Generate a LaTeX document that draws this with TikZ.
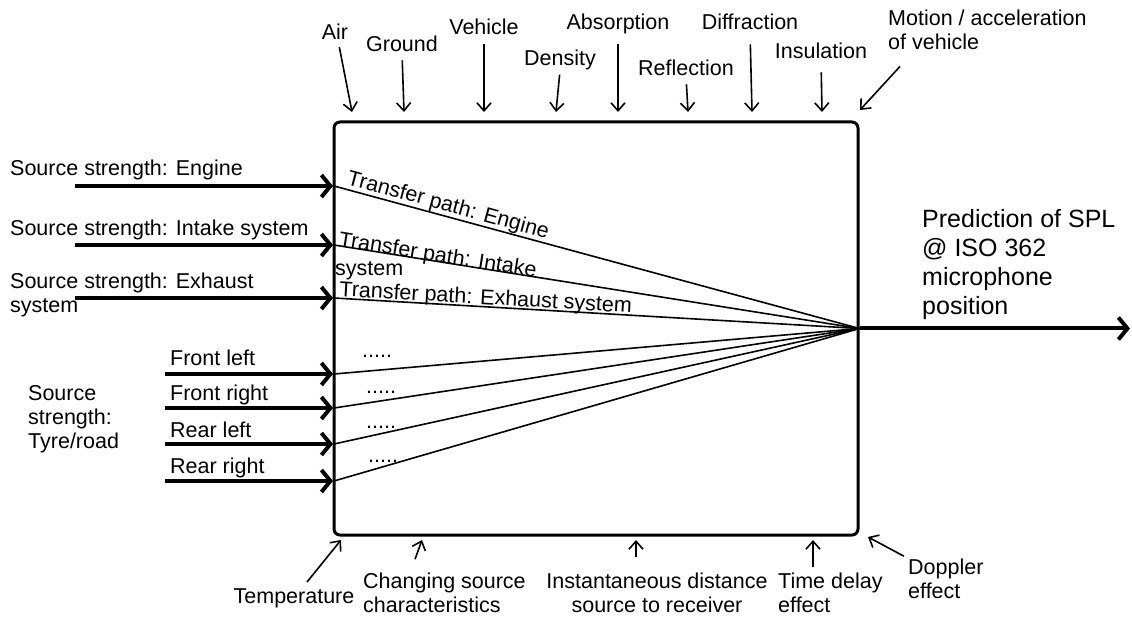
\documentclass[tikz,border=0pt]{standalone}
\usepackage{fontspec}
\setmainfont{Liberation Sans}
\usetikzlibrary{arrows.meta}
\begin{document}
\begin{tikzpicture}[x=1pt,y=-1pt,
  lbl/.style={font=\fontsize{21.5}{24}\selectfont, inner sep=0pt, align=left},
  big/.style={font=\fontsize{25}{29}\selectfont, inner sep=0pt, align=left},
  tarr/.style={line width=1.6pt, -{Straight Barb[length=8pt,width=14pt]}},
  karr/.style={line width=4pt, -{Straight Barb[length=9pt,width=22pt]}},
  tline/.style={line width=1.6pt}]
\useasboundingbox (0,0) rectangle (1132,617);

% main box
\node[draw, line width=3pt, rounded corners=6pt, minimum width=524pt, minimum height=413pt, inner sep=0pt] (box) at (596,328.5) {};

% top influences
\node[lbl, anchor=base] (air) at (335,40) {Air};
\node[lbl, anchor=base] (ground) at (402,52) {Ground};
\node[lbl, anchor=base] (veh) at (484,35) {Vehicle};
\node[lbl, anchor=base] (dens) at (560,66) {Density};
\node[lbl, anchor=base] (absn) at (618,30) {Absorption};
\node[lbl, anchor=base] (refl) at (686,76) {Reflection};
\node[lbl, anchor=base] (diff) at (750,30) {Diffraction};
\node[lbl, anchor=base] (ins) at (821,59) {Insulation};
\node[lbl, anchor=base west] (mot) at (888,50) {Motion / acceleration\\of vehicle};

\coordinate (airT) at (352,112);
\coordinate (groundT) at (404,112);
\coordinate (vehT) at (484,112);
\coordinate (densT) at (556,112);
\coordinate (absT) at (618,112);
\coordinate (reflT) at (688,112);
\coordinate (diffT) at (752,112);
\coordinate (insT) at (822,112);
\coordinate (motT) at (860,110);

\draw[tarr, shorten <=7pt] ([xshift=3pt]air.south) -- (airT);
\draw[tarr, shorten <=8pt] (ground.south) -- (groundT);
\draw[tarr, shorten <=9pt] (veh.south) -- (vehT);
\draw[tarr, shorten <=4pt] (dens.south) -- (densT);
\draw[tarr, shorten <=9pt] (absn.south) -- (absT);
\draw[tarr, shorten <=8pt] (refl.south) -- (reflT);
\draw[tarr, shorten <=14pt] (diff.south) -- (diffT);
\draw[tarr, shorten <=13pt] (ins.south) -- (insT);
\draw[tarr] ([xshift=12pt,yshift=-16pt]mot.south west) -- (motT);

% bottom influences
\node[lbl, anchor=base] (temp) at (294,603) {Temperature};
\node[lbl, anchor=base west] (chg) at (363,612) {Changing source\\characteristics};
\node[lbl, anchor=base, align=center] (inst) at (657,612) {Instantaneous distance\\source to receiver};
\node[lbl, anchor=base west] (tde) at (778,612) {Time delay\\effect};
\node[lbl, anchor=base west] (dop) at (908,598) {Doppler\\effect};

\coordinate (tempT) at (341,540);
\coordinate (chgT) at (422,540);
\coordinate (instT) at (636,540);
\coordinate (tdeT) at (813,540);
\coordinate (dopT) at (868,537);

\draw[tarr] ([xshift=13pt,yshift=6pt]temp.north) -- (tempT);
\draw[tarr] ([xshift=52pt,yshift=13pt]chg.north west) -- (chgT);
\draw[tarr] ([xshift=-21pt,yshift=15pt]inst.north) -- (instT);
\draw[tarr] ([xshift=35pt,yshift=5pt]tde.north west) -- (tdeT);
\draw[tarr] ([xshift=-4pt,yshift=2pt]dop.north west) -- (dopT);

% sources
\node[lbl, anchor=base west] (se) at (10,176) {Source strength: Engine};
\node[lbl, anchor=base west] (si) at (10,236) {Source strength: Intake system};
\node[lbl, anchor=base west] (sx) at (10,313) {Source strength: Exhaust\\system};
\node[lbl, anchor=base west] (fl) at (170,366) {Front left};
\node[lbl, anchor=base west] (fr) at (170,400) {Front right};
\node[lbl, anchor=base west] (rl) at (170,437) {Rear left};
\node[lbl, anchor=base west] (rr) at (170,473) {Rear right};
\node[lbl, anchor=base west] (tyre) at (28,448) {Source\\strength:\\Tyre/road};

\coordinate (a1) at (75,186);   \coordinate (b1) at (334,186);
\coordinate (a2) at (75,245);   \coordinate (b2) at (334,245);
\coordinate (a3) at (75,298);   \coordinate (b3) at (334,298);
\coordinate (a4) at (165,374);  \coordinate (b4) at (334,374);
\coordinate (a5) at (165,408);  \coordinate (b5) at (334,408);
\coordinate (a6) at (165,444);  \coordinate (b6) at (334,444);
\coordinate (a7) at (165,481);  \coordinate (b7) at (334,481);

\foreach \i in {1,...,7}{
  \draw[karr, shorten >=1pt] (a\i) -- (b\i);
  \draw[tline] (b\i) -- (box.east);
}

% transfer path labels
\node[lbl, anchor=base west, rotate=-15.2] (tpE) at (346,184) {Transfer path: Engine};
\node[lbl, anchor=base west, rotate=-9] (tpI) at (338,246) {Transfer path: Intake};
\node[lbl, anchor=base west] (tpIs) at (335,276) {system};
\node[lbl, anchor=base west, rotate=-3.3] (tpX) at (339,296) {Transfer path: Exhaust system};

\node[lbl, anchor=base west] (d1) at (362,358) {.....};
\node[lbl, anchor=base west] (d2) at (366,393) {.....};
\node[lbl, anchor=base west] (d3) at (366,428) {.....};
\node[lbl, anchor=base west] (d4) at (368,462) {.....};

% output
\coordinate (outE) at (1130,328.5);
\draw[karr] (box.east) -- (outE);
\node[big, anchor=base west] (pred) at (922,315) {Prediction of SPL\\@ ISO 362\\microphone\\position};
\end{tikzpicture}
\end{document}
